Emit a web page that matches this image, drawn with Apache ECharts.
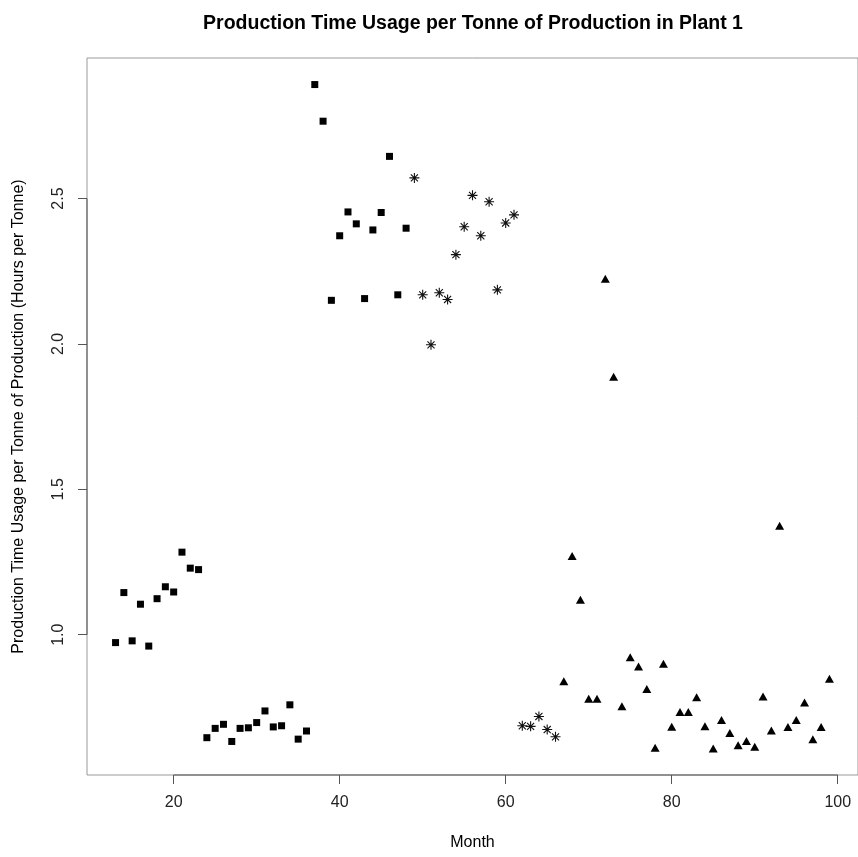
<!DOCTYPE html>
<html>
<head>
<meta charset="utf-8">
<script src="https://cdn.jsdelivr.net/npm/echarts@6/dist/echarts.min.js"></script>
<style>html,body{margin:0;padding:0;background:#fff}#c{width:858px;height:857px}</style>
</head>
<body>
<div id="c"></div>
<script>
var squareMonths = [13,14,15,16,17,18,19,20,21,22,23,24,25,26,27,28,29,30,31,32,33,34,35,36,37,38,39,40,41,42,43,44,45,46,47,48];
var squareValues = [0.973,1.145,0.979,1.105,0.961,1.124,1.165,1.147,1.284,1.229,1.224,0.646,0.678,0.692,0.633,0.678,0.680,0.698,0.738,0.683,0.687,0.759,0.641,0.669,2.892,2.766,2.150,2.372,2.454,2.413,2.156,2.392,2.452,2.645,2.169,2.398];
var starMonths = [49,50,51,52,53,54,55,56,57,58,59,60,61,62,63,64,65,66];
var starValues = [2.571,2.169,1.997,2.176,2.153,2.307,2.403,2.511,2.372,2.489,2.186,2.416,2.444,0.687,0.685,0.719,0.674,0.649];
var triMonths = [67,68,69,70,71,72,73,74,75,76,77,78,79,80,81,82,83,84,85,86,87,88,89,90,91,92,93,94,95,96,97,98,99];
var triValues = [0.840,1.271,1.120,0.780,0.780,2.224,1.887,0.754,0.923,0.891,0.813,0.611,0.900,0.684,0.734,0.734,0.785,0.685,0.609,0.707,0.662,0.620,0.635,0.615,0.788,0.671,1.375,0.683,0.707,0.767,0.641,0.683,0.849];
var xTicks = [20,40,60,80,100];
var yTicks = [1.0,1.5,2.0,2.5];
var yTickLabels = ['1.0','1.5','2.0','2.5'];

function pairs(xs, ys){ return xs.map(function(x,i){ return [x, ys[i]]; }); }

var allX = squareMonths.concat(starMonths, triMonths);
var allY = squareValues.concat(starValues, triValues);
var xMin = Math.min.apply(null, allX), xMax = Math.max.apply(null, allX);
var yMin = Math.min.apply(null, allY), yMax = Math.max.apply(null, allY);
var xPad = (xMax - xMin) * 0.04, yPad = (yMax - yMin) * 0.04;
var xLo = xMin - xPad, xHi = xMax + xPad, yLo = yMin - yPad, yHi = yMax + yPad;

var font = 'Liberation Sans, Arial, Helvetica, sans-serif';
var starPath = 'path://M10,0L10,20M0,10L20,10M2.93,2.93L17.07,17.07M2.93,17.07L17.07,2.93';

var chart = echarts.init(document.getElementById('c'), null, {renderer:'canvas'});
chart.setOption({
  animation: false,
  backgroundColor: '#ffffff',
  title: {
    text: 'Production Time Usage per Tonne of Production in Plant 1',
    left: 468, top: 9, textAlign: 'center',
    textStyle: {fontFamily: font, fontSize: 19.5, fontWeight: 'bold', color: '#000'}
  },
  grid: {left: 87, top: 58, width: 776, height: 717, show: true, borderColor: '#999', borderWidth: 1, backgroundColor: 'transparent'},
  xAxis: {
    type: 'value', min: xLo, max: xHi,
    name: 'Month', nameLocation: 'middle', nameGap: 60,
    nameTextStyle: {fontFamily: font, fontSize: 16, color: '#000'},
    axisLine: {show: false},
    axisTick: {show: true, length: 9, inside: false, customValues: xTicks, lineStyle: {color: '#555'}},
    axisLabel: {customValues: xTicks, margin: 20, fontFamily: font, fontSize: 16, color: '#222'},
    splitLine: {show: false}
  },
  yAxis: {
    type: 'value', min: yLo, max: yHi,
    name: 'Production Time Usage per Tonne of Production (Hours per Tonne)',
    nameLocation: 'middle', nameGap: 60,
    nameTextStyle: {fontFamily: font, fontSize: 16, color: '#000'},
    axisLine: {show: false},
    axisTick: {show: true, length: 9, inside: false, customValues: yTicks, lineStyle: {color: '#555'}},
    axisLabel: {customValues: yTicks, rotate: 90, margin: 20, fontFamily: font, fontSize: 16, color: '#222',
      formatter: function(v){ var i = yTicks.indexOf(v); return i >= 0 ? yTickLabels[i] : v.toFixed(1); }},
    splitLine: {show: false}
  },
  series: [
    {type: 'scatter', data: pairs(squareMonths, squareValues), symbol: 'rect', symbolSize: 7,
      itemStyle: {color: '#000', opacity: 1}},
    {type: 'scatter', data: pairs(starMonths, starValues), symbol: starPath, symbolSize: 10,
      itemStyle: {color: 'rgba(0,0,0,0)', borderColor: '#111', borderWidth: 1.1, opacity: 1}},
    {type: 'scatter', data: pairs(triMonths, triValues), symbol: 'triangle', symbolSize: [9, 8],
      itemStyle: {color: '#000', opacity: 1}}
  ]
});

// R-style axis lines spanning from first to last tick
var xa = chart.convertToPixel({gridIndex: 0}, [xTicks[0], yLo]);
var xb = chart.convertToPixel({gridIndex: 0}, [xTicks[xTicks.length - 1], yLo]);
var ya = chart.convertToPixel({gridIndex: 0}, [xLo, yTicks[0]]);
var yb = chart.convertToPixel({gridIndex: 0}, [xLo, yTicks[yTicks.length - 1]]);
chart.setOption({
  graphic: [
    {type: 'line', shape: {x1: xa[0], y1: xa[1], x2: xb[0], y2: xb[1]}, style: {stroke: '#555', lineWidth: 1}, z: 10},
    {type: 'line', shape: {x1: ya[0], y1: ya[1], x2: yb[0], y2: yb[1]}, style: {stroke: '#555', lineWidth: 1}, z: 10}
  ]
});
</script>
</body>
</html>
